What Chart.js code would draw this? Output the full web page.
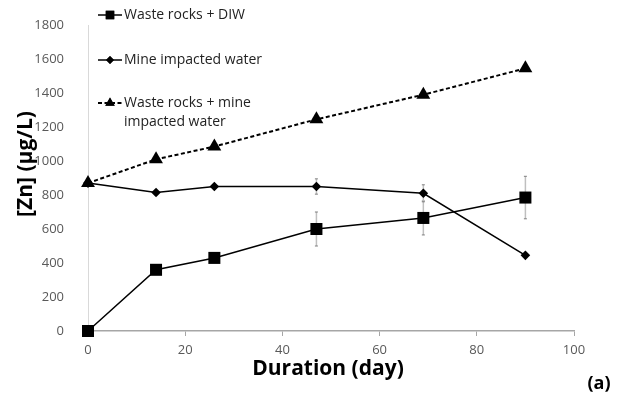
<!DOCTYPE html>
<html>
<head>
<meta charset="utf-8">
<script src="https://cdn.jsdelivr.net/npm/chart.js@4/dist/chart.umd.min.js"></script>
<style>
  html, body { margin: 0; padding: 0; background: #fff; }
  #wrap { width: 620px; height: 401px; position: relative; }
</style>
</head>
<body>
<div id="wrap"><canvas id="c" width="620" height="401"></canvas></div>
<script>
// Sampling days and zinc concentrations (µg/L)
const days = [0, 14, 26, 47, 69, 90];
const diwZn = [0, 360, 430, 600, 665, 785];
const diwErr = [0, 0, 0, 100, 100, 125];
const mineZn = [870, 815, 850, 850, 810, 445];
const mineErr = [0, 0, 0, 45, 50, 0];
const mixZn = [870, 1010, 1085, 1245, 1390, 1545];
const seriesNames = ['Waste rocks + DIW', 'Mine impacted water', ['Waste rocks + mine', 'impacted water']];
const xTitle = 'Duration (day)';
const yTitle = '[Zn] (µg/L)';
const panelTag = '(a)';

const FONT = '"Open Sans", "Liberation Sans", sans-serif';

function pts(ys) { return days.map((d, i) => ({ x: d, y: ys[i] })); }

const styles = [
  { pointStyle: 'rect', radius: 8.5, dash: [], width: 1.5, legendRadius: 6 },
  { pointStyle: 'rectRot', radius: 4.8, dash: [], width: 1.5, legendRadius: 4 },
  { pointStyle: 'triangle', radius: 8, dash: [4, 2.5], width: 2, legendRadius: 5.5 }
];

// Vertical error bars drawn behind the markers
const errorBars = {
  id: 'errorBars',
  beforeDatasetsDraw(chart) {
    const { ctx, scales: { x, y } } = chart;
    const sets = [diwErr, mineErr, null];
    const vals = [diwZn, mineZn, mixZn];
    ctx.save();
    sets.forEach((errs, s) => {
      if (!errs) return;
      errs.forEach((e, i) => {
        if (!e) return;
        const px = x.getPixelForValue(days[i]);
        const top = y.getPixelForValue(vals[s][i] + e);
        const bot = y.getPixelForValue(vals[s][i] - e);
        ctx.strokeStyle = '#bfbfbf';
        ctx.lineWidth = 1.5;
        ctx.beginPath();
        ctx.moveTo(px, top); ctx.lineTo(px, bot);
        ctx.stroke();
        ctx.strokeStyle = '#7f7f7f';
        ctx.lineWidth = 1;
        ctx.beginPath();
        ctx.moveTo(px - 1.5, top); ctx.lineTo(px + 1.5, top);
        ctx.moveTo(px - 1.5, bot); ctx.lineTo(px + 1.5, bot);
        ctx.stroke();
      });
    });
    ctx.restore();
  }
};

// Legend, axis titles and panel tag
const annotations = {
  id: 'annotations',
  afterDraw(chart) {
    const { ctx } = chart;
    ctx.save();
    // legend
    const rows = [15, 60, 103];
    seriesNames.forEach((name, i) => {
      const st = styles[i];
      const yy = rows[i];
      ctx.strokeStyle = '#000';
      ctx.lineWidth = st.width;
      ctx.setLineDash(st.dash);
      ctx.beginPath();
      ctx.moveTo(98, yy); ctx.lineTo(122, yy);
      ctx.stroke();
      ctx.setLineDash([]);
      Chart.helpers.drawPoint(ctx, {
        pointStyle: st.pointStyle, radius: st.legendRadius, rotation: 0, borderWidth: 0
      }, 110, yy);
      ctx.fillStyle = '#000';
      ctx.fill();
      ctx.fillStyle = '#222';
      ctx.font = '14px ' + FONT;
      ctx.textAlign = 'left';
      ctx.textBaseline = 'middle';
      const lines = Array.isArray(name) ? name : [name];
      lines.forEach((ln, k) => ctx.fillText(ln, 124, yy + k * 19));
    });
    // x title
    ctx.fillStyle = '#000';
    ctx.font = 'bold 21px ' + FONT;
    ctx.textAlign = 'center';
    ctx.textBaseline = 'middle';
    ctx.fillText(xTitle, 328, 369);
    // y title
    ctx.save();
    ctx.translate(26, 164);
    ctx.rotate(-Math.PI / 2);
    ctx.fillText(yTitle, 0, 0);
    ctx.restore();
    // panel tag
    ctx.font = 'bold 18px ' + FONT;
    ctx.fillText(panelTag, 599, 384);
    ctx.restore();
  }
};

const mk = (i, data) => ({
  label: Array.isArray(seriesNames[i]) ? seriesNames[i].join(' ') : seriesNames[i],
  data: pts(data),
  borderColor: '#000',
  backgroundColor: '#000',
  borderWidth: styles[i].width,
  borderDash: styles[i].dash,
  pointStyle: styles[i].pointStyle,
  pointRadius: styles[i].radius,
  pointHoverRadius: styles[i].radius,
  pointBorderWidth: 0,
  tension: 0,
  fill: false,
  clip: false
});

const plain = v => String(v);

new Chart(document.getElementById('c'), {
  type: 'line',
  data: { datasets: [mk(2, mixZn), mk(1, mineZn), mk(0, diwZn)] },
  options: {
    responsive: false,
    animation: false,
    devicePixelRatio: 1,
    layout: { padding: { left: 0, right: 46, top: 25, bottom: 0 } },
    plugins: { legend: { display: false }, tooltip: { enabled: false } },
    scales: {
      x: {
        type: 'linear',
        min: 0, max: 100,
        ticks: { stepSize: 20, color: '#595959', font: { family: FONT, size: 13 }, padding: 6, callback: plain },
        grid: { display: true, drawOnChartArea: false, drawTicks: true, tickLength: 5, color: '#a6a6a6' },
        border: { display: true, color: '#a6a6a6', width: 1.5 },
        afterFit(s) { s.height = 70; }
      },
      y: {
        min: 0, max: 1800,
        ticks: { stepSize: 200, color: '#595959', font: { family: FONT, size: 13 }, padding: 16, callback: plain },
        grid: { display: false },
        border: { display: true, color: '#d9d9d9', width: 1 },
        afterFit(s) { s.width = 88; }
      }
    }
  },
  plugins: [errorBars, annotations]
});
</script>
</body>
</html>
